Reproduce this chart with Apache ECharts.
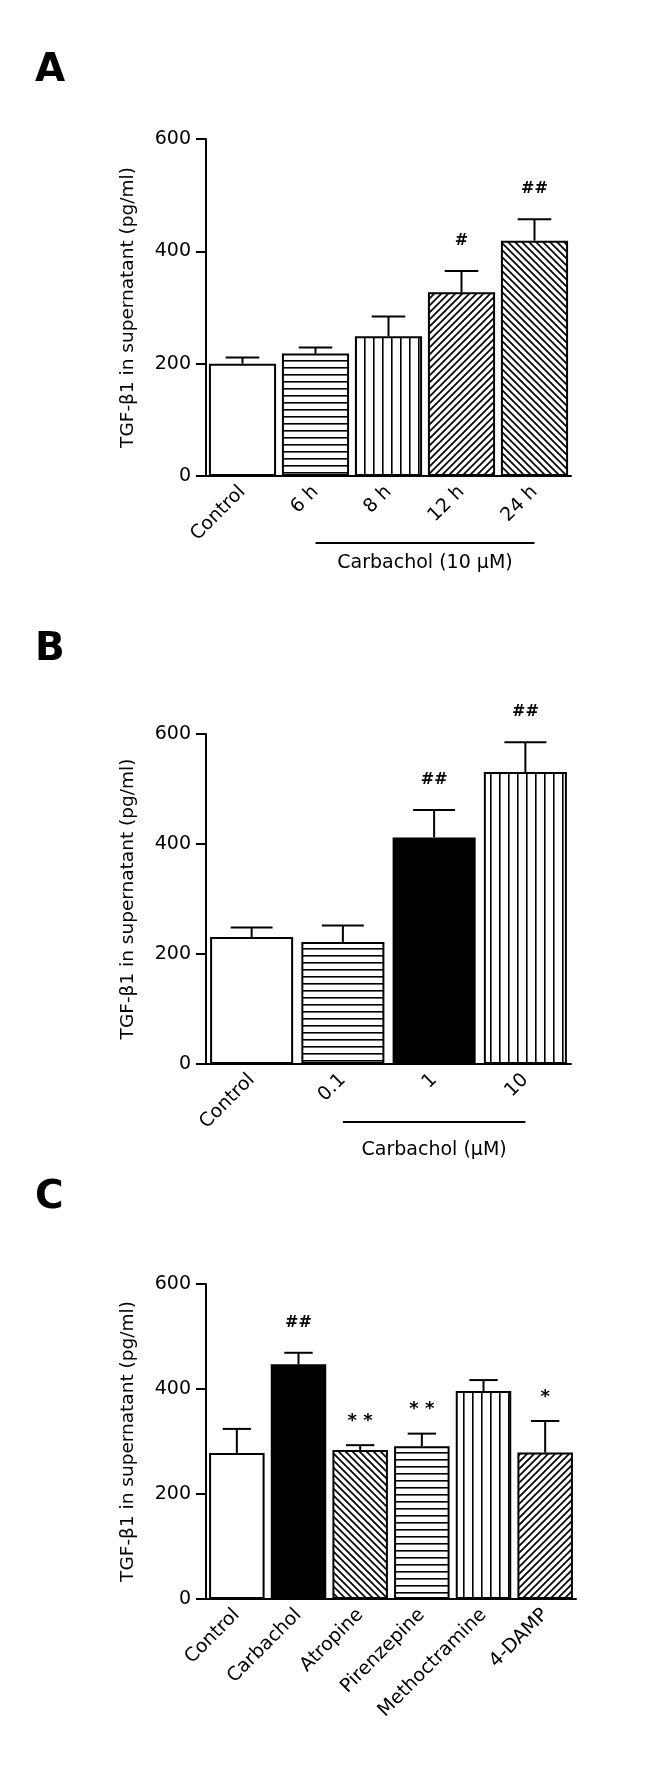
<!DOCTYPE html>
<html><head><meta charset="utf-8">
<script src="https://cdn.jsdelivr.net/npm/echarts@6/dist/echarts.min.js"></script>
<style>html,body{margin:0;padding:0;background:#fff}#c{width:651px;height:1772px}</style>
</head><body><div id="c"></div>
<script>
// ---- data ----
const yAxisTitle = 'TGF-\u03B21 in supernatant (pg/ml)';

const catsA = ['Control', '6 h', '8 h', '12 h', '24 h'];
const meanA = [200, 218, 249, 327, 419];
const semA  = [11, 11, 35, 38, 38];
const markA = ['', '', '', '#', '##'];
const patA  = ['none', 'horizontal', 'vertical', 'diagUp', 'diagDown'];
const groupA = 'Carbachol (10 \u03BCM)';

const catsB = ['Control', '0.1', '1', '10'];
const meanB = [231, 222, 412, 531];
const semB  = [17, 30, 50, 54];
const markB = ['', '', '##', '##'];
const patB  = ['none', 'horizontal', 'solid', 'vertical'];
const groupB = 'Carbachol (\u03BCM)';

const catsC = ['Control', 'Carbachol', 'Atropine', 'Pirenzepine', 'Methoctramine', '4-DAMP'];
const meanC = [278, 447, 284, 291, 396, 279];
const semC  = [46, 22, 9, 24, 21, 60];
const markC = ['', '##', '**', '**', '', '*'];
const patC  = ['none', 'solid', 'diagDown', 'horizontal', 'vertical', 'diagUp'];

const yMin = 0, yMax = 600, yStep = 200;
const panelLetters = ['A', 'B', 'C'];

// ---- styling helpers ----
const FONT = 'DejaVu Sans';
function makePattern(kind) {
  if (kind === 'none') return '#ffffff';
  if (kind === 'solid') return '#000000';
  const c = document.createElement('canvas');
  let ctx;
  if (kind === 'horizontal') {
    c.width = 8; c.height = 7; ctx = c.getContext('2d');
    ctx.fillStyle = '#fff'; ctx.fillRect(0, 0, 8, 7);
    ctx.fillStyle = '#000'; ctx.fillRect(0, 3, 8, 1.6);
  } else if (kind === 'vertical') {
    c.width = 9; c.height = 8; ctx = c.getContext('2d');
    ctx.fillStyle = '#fff'; ctx.fillRect(0, 0, 9, 8);
    ctx.fillStyle = '#000'; ctx.fillRect(4, 0, 1.6, 8);
  } else {
    const s = 7;
    c.width = s; c.height = s; ctx = c.getContext('2d');
    ctx.fillStyle = '#fff'; ctx.fillRect(0, 0, s, s);
    ctx.strokeStyle = '#000'; ctx.lineWidth = 1.7;
    ctx.beginPath();
    for (const k of [-s, 0, s]) {
      if (kind === 'diagUp') { ctx.moveTo(-1, s + k + 1); ctx.lineTo(s + 1, k - 1); }
      else { ctx.moveTo(-1, k - 1); ctx.lineTo(s + 1, s + k + 1); }
    }
    ctx.stroke();
  }
  return { image: c, repeat: 'repeat' };
}

const panels = [
  { cats: catsA, mean: meanA, sem: semA, mark: markA, pat: patA, grid: { left: 206, top: 139, width: 365, height: 337 }, barW: '92%', group: groupA, from: 1, lineOff: 67, textOff: 87, letterY: 71 },
  { cats: catsB, mean: meanB, sem: semB, mark: markB, pat: patB, grid: { left: 206, top: 734, width: 365, height: 330 }, barW: '91%', group: groupB, from: 1, lineOff: 58, textOff: 86, letterY: 650 },
  { cats: catsC, mean: meanC, sem: semC, mark: markC, pat: patC, grid: { left: 206, top: 1284, width: 370, height: 315 }, barW: '90%', group: null, letterY: 1198 }
];

const axisLineStyle = { color: '#000', width: 2 };
const option = {
  animation: false,
  backgroundColor: '#fff',
  grid: [], xAxis: [], yAxis: [], series: []
};

panels.forEach((p, gi) => {
  option.grid.push(Object.assign({ containLabel: false }, p.grid));
  option.xAxis.push({
    type: 'category', gridIndex: gi, data: p.cats,
    axisLine: { lineStyle: axisLineStyle },
    axisTick: { alignWithLabel: true, length: 10, lineStyle: axisLineStyle },
    axisLabel: { rotate: 45, margin: 13, color: '#000', fontFamily: FONT, fontSize: 19, interval: 0 }
  });
  option.yAxis.push({
    type: 'value', gridIndex: gi, min: yMin, max: yMax, interval: yStep,
    axisLine: { show: true, lineStyle: axisLineStyle },
    axisTick: { show: true, length: 10, lineStyle: axisLineStyle },
    splitLine: { show: false },
    axisLabel: { margin: 15, color: '#000', fontFamily: FONT, fontSize: 19 },
    name: yAxisTitle, nameLocation: 'middle', nameGap: 68,
    nameTextStyle: { color: '#000', fontFamily: FONT, fontSize: 18.5 }
  });
  option.series.push({
    type: 'bar', xAxisIndex: gi, yAxisIndex: gi, barWidth: p.barW,
    data: p.mean.map((v, i) => ({ value: v, itemStyle: { color: makePattern(p.pat[i]) } })),
    itemStyle: { borderColor: '#000', borderWidth: 2 },
    z: 2
  });
  const marks = p.mark;
  option.series.push({
    type: 'custom', xAxisIndex: gi, yAxisIndex: gi, z: 5, clip: false,
    data: p.mean.map((v, i) => [i, v, p.sem[i]]),
    renderItem: function (params, api) {
      const i = api.value(0), m = api.value(1), s = api.value(2);
      const top = api.coord([i, m]);
      const et = api.coord([i, m + s]);
      const half = api.size([1, 0])[0] * 0.23;
      const children = [
        { type: 'line', shape: { x1: top[0], y1: top[1], x2: et[0], y2: et[1] }, style: { stroke: '#000', lineWidth: 2 } },
        { type: 'line', shape: { x1: et[0] - half, y1: et[1], x2: et[0] + half, y2: et[1] }, style: { stroke: '#000', lineWidth: 2 } }
      ];
      const mk = marks[params.dataIndex];
      if (mk) {
        const isStar = mk.indexOf('*') >= 0;
        children.push({ type: 'text', style: {
          text: isStar ? mk.split('').join(' ') : mk, x: et[0], y: et[1] - (isStar ? 24 : 30),
          align: 'center', verticalAlign: 'middle',
          font: 'bold ' + (isStar ? 18 : 16) + 'px "DejaVu Sans"', fill: '#000' } });
      }
      return { type: 'group', children: children };
    }
  });
});

const chart = echarts.init(document.getElementById('c'), null, { renderer: 'canvas' });
chart.setOption(option);

// group brackets and panel letters, positioned from the axes
const graphics = [];
panels.forEach((p, gi) => {
  graphics.push({ type: 'text', left: 35, top: p.letterY - 20,
    style: { text: panelLetters[gi], font: 'bold 39px "DejaVu Sans"', fill: '#000' } });
  if (!p.group) return;
  const x1 = chart.convertToPixel({ xAxisIndex: gi }, p.cats[p.from]);
  const x2 = chart.convertToPixel({ xAxisIndex: gi }, p.cats[p.cats.length - 1]);
  const yb = chart.convertToPixel({ yAxisIndex: gi }, yMin);
  graphics.push({ type: 'line', shape: { x1: x1, y1: yb + p.lineOff, x2: x2, y2: yb + p.lineOff }, style: { stroke: '#000', lineWidth: 2 } });
  graphics.push({ type: 'text', x: (x1 + x2) / 2, y: yb + p.textOff,
    style: { text: p.group, align: 'center', verticalAlign: 'middle', font: '19px "DejaVu Sans"', fill: '#000' } });
});
chart.setOption({ graphic: graphics });
</script></body></html>
